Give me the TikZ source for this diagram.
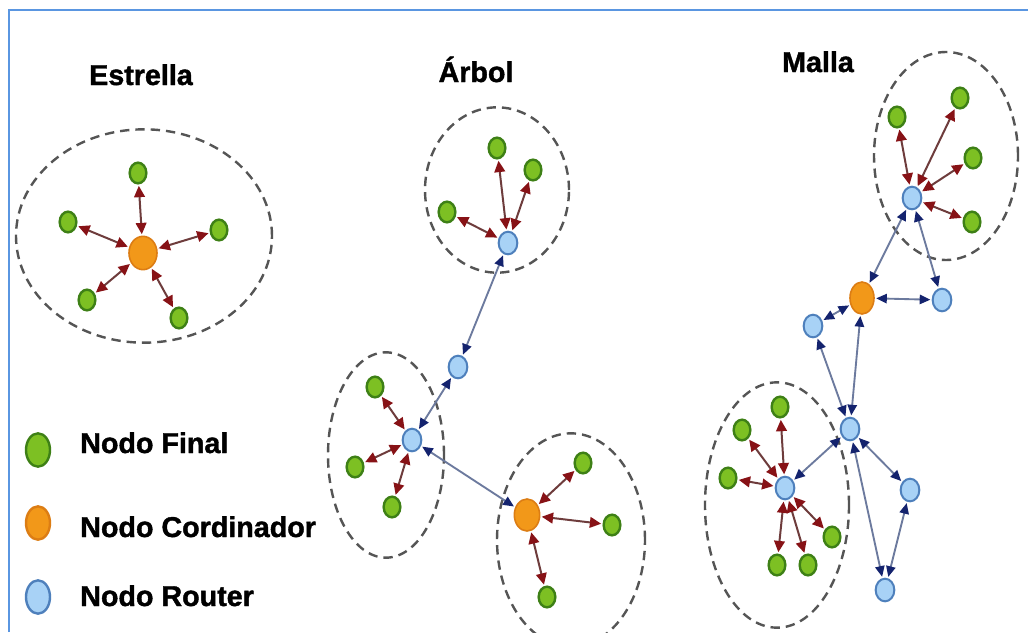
\documentclass[tikz,border=0pt]{standalone}
\usepackage{fontspec}
\setmainfont{Liberation Sans}
\newfontfamily\heavyfont[FakeBold=1.4]{Liberation Sans Bold}
\usetikzlibrary{arrows.meta,shapes.geometric}
\definecolor{gfill}{RGB}{125,192,35}
\definecolor{gdraw}{RGB}{62,128,22}
\definecolor{ofill}{RGB}{242,152,25}
\definecolor{odraw}{RGB}{220,125,20}
\definecolor{bfill}{RGB}{168,210,246}
\definecolor{bdraw}{RGB}{78,128,188}
\definecolor{lred}{RGB}{110,60,60}
\definecolor{ared}{RGB}{135,18,22}
\definecolor{lblue}{RGB}{108,122,158}
\definecolor{ablue}{RGB}{20,35,110}
\definecolor{dashc}{RGB}{85,85,85}
\definecolor{framec}{RGB}{90,150,225}
\begin{document}
\begin{tikzpicture}[x=0.75pt,y=-0.75pt,
  fin/.style={ellipse,draw=gdraw,fill=gfill,line width=1.8pt,minimum width=12.5pt,minimum height=15.5pt,inner sep=0pt},
  coord/.style={ellipse,draw=odraw,fill=ofill,line width=1.2pt,minimum width=19pt,minimum height=24pt,inner sep=0pt},
  rout/.style={ellipse,draw=bdraw,fill=bfill,line width=1.5pt,minimum width=14pt,minimum height=17pt,inner sep=0pt},
  cluster/.style={draw=dashc,line width=1.8pt,dash pattern=on 7pt off 4.5pt},
  rlink/.style={draw=lred,line width=1.5pt,{Triangle[length=8.5pt,width=8pt,color=ared]}-{Triangle[length=8.5pt,width=8pt,color=ared]},shorten <=1pt,shorten >=1pt},
  blink/.style={draw=lblue,line width=1.4pt,{Triangle[length=8pt,width=7pt,color=ablue]}-{Triangle[length=8pt,width=7pt,color=ablue]},shorten <=1pt,shorten >=1pt},
  ttl/.style={font=\fontsize{21.5}{25}\heavyfont,inner sep=0pt},
  leg/.style={ellipse,line width=1.8pt,minimum width=18pt,minimum height=25pt,inner sep=0pt}
]
\useasboundingbox (0,0) rectangle (1028,632);
\fill[white] (0,0) rectangle (1028,632);
\draw[framec,line width=1.5pt] (9,632) -- (9,10) -- (1028,10);

% titles
\node[ttl,anchor=base] (tE) at (141,85) {Estrella};
\node[ttl,anchor=base] (tA) at (476,82) {Árbol};
\node[ttl,anchor=base] (tM) at (818,72) {Malla};

% legend
\node[leg,draw=gdraw,fill=gfill] (lg) at (38,450) {};
\node[leg,draw=odraw,fill=ofill] (lo) at (38,523) {};
\node[leg,draw=bdraw,fill=bfill] (lb) at (38,597) {};
\node[ttl,anchor=base west] (lgt) at (80,453) {Nodo Final};
\node[ttl,anchor=base west] (lot) at (80,537) {Nodo Cordinador};
\node[ttl,anchor=base west] (lbt) at (80,606) {Nodo Router};

% clusters
\draw[cluster] (144,236) ellipse [x radius=96pt, y radius=80pt];
\draw[cluster] (497,190) ellipse [x radius=54pt, y radius=62pt];
\draw[cluster] (386,455) ellipse [x radius=43.5pt, y radius=77pt];
\draw[cluster] (571,540) ellipse [x radius=55.5pt, y radius=80pt];
\draw[cluster] (946,156) ellipse [x radius=54pt, y radius=78pt];
\draw[cluster] (777,505) ellipse [x radius=54pt, y radius=92pt];

% ---- Estrella
\node[coord,minimum width=21pt,minimum height=25pt] (eC) at (143,253) {};
\node[fin] (e1) at (138,173) {};
\node[fin] (e2) at (68,222) {};
\node[fin] (e3) at (219,230) {};
\node[fin] (e4) at (87,300) {};
\node[fin] (e5) at (179,318) {};
\foreach \n in {e1,e2,e3,e4,e5} \draw[rlink] (eC) -- (\n);

% ---- Arbol
\node[rout] (aR1) at (508,243) {};
\node[fin] (a11) at (497,148) {};
\node[fin] (a12) at (533,170) {};
\node[fin] (a13) at (447,212) {};
\node[rout] (aR2) at (458,367) {};
\node[rout] (aR3) at (412,440) {};
\node[fin] (a31) at (375,387) {};
\node[fin] (a32) at (355,467) {};
\node[fin] (a33) at (392,507) {};
\node[coord] (aC) at (527,515) {};
\node[fin] (ac1) at (583,463) {};
\node[fin] (ac2) at (612,525) {};
\node[fin] (ac3) at (547,597) {};
\foreach \n in {a11,a12,a13} \draw[rlink] (aR1) -- (\n);
\foreach \n in {a31,a32,a33} \draw[rlink] (aR3) -- (\n);
\foreach \n in {ac1,ac2,ac3} \draw[rlink] (aC) -- (\n);
\draw[blink] (aR1) -- (aR2);
\draw[blink] (aR2) -- (aR3);
\draw[blink] (aR3) -- (aC);

% ---- Malla
\node[rout] (mT) at (912,198) {};
\node[fin] (mt1) at (897,117) {};
\node[fin] (mt2) at (960,98) {};
\node[fin] (mt3) at (973,158) {};
\node[fin] (mt4) at (972,222) {};
\node[coord,minimum width=18pt] (mC) at (862,298) {};
\node[rout] (mR) at (942,300) {};
\node[rout] (mL) at (813,326) {};
\node[rout] (mM) at (850,429) {};
\node[rout] (mE) at (785,488) {};
\node[rout] (mR2) at (910,490) {};
\node[rout] (mB) at (885,590) {};
\node[fin] (me1) at (780,407) {};
\node[fin] (me2) at (742,430) {};
\node[fin] (me3) at (728,478) {};
\node[fin] (me4) at (832,537) {};
\node[fin] (me5) at (777,565) {};
\node[fin] (me6) at (808,565) {};
\foreach \n in {mt1,mt2,mt3,mt4} \draw[rlink] (mT) -- (\n);
\foreach \n in {me1,me2,me3,me4,me5,me6} \draw[rlink] (mE) -- (\n);
\draw[blink] (mT) -- (mC);
\draw[blink] (mT) -- (mR);
\draw[blink] (mC) -- (mR);
\draw[blink] (mC) -- (mL);
\draw[blink] (mC) -- (mM);
\draw[blink] (mL) -- (mM);
\draw[blink] (mM) -- (mE);
\draw[blink] (mM) -- (mR2);
\draw[blink] (mM) -- (mB);
\draw[blink] (mR2) -- (mB);
\end{tikzpicture}
\end{document}
